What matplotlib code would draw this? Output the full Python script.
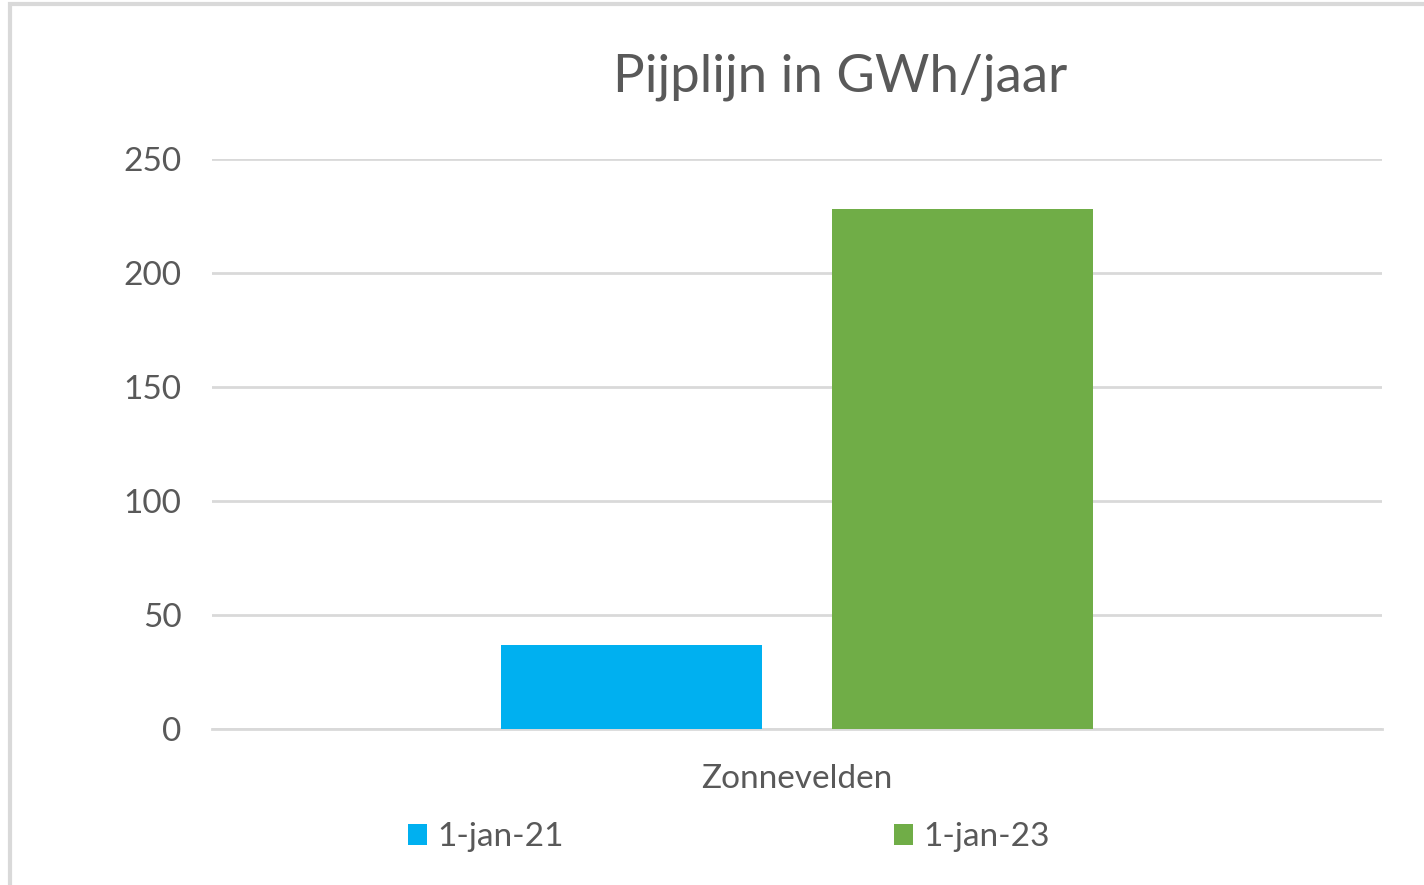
import matplotlib.pyplot as plt
from matplotlib.patches import Rectangle

# data
categories = ["Zonnevelden"]
series_names = ["1-jan-21", "1-jan-23"]
values_21 = [37]
values_23 = [228]
colors = ["#00B0F0", "#70AD47"]
title = "Pijplijn in GWh/jaar"

plt.rcParams['font.family'] = ['Lato', 'DejaVu Sans']
text_color = "#595959"
grid_color = "#D9D9D9"

fig = plt.figure(figsize=(14.24, 8.85), dpi=100)
ax = fig.add_axes([212 / 1424, 1 - 729 / 885, 1170 / 1424, 570 / 885])

width = 0.223
offset = 0.1415
x = list(range(len(categories)))
ax.bar([i - offset for i in x], values_21, width, color=colors[0], label=series_names[0], zorder=3)
ax.bar([i + offset for i in x], values_23, width, color=colors[1], label=series_names[1], zorder=3)

ax.set_xlim(-0.5, 0.5)
ax.set_ylim(0, 250)
ax.set_yticks([0, 50, 100, 150, 200, 250])
ax.set_xticks(x)
ax.set_xticklabels(categories)
ax.tick_params(axis='both', length=0, labelsize=24, labelcolor=text_color)
ax.tick_params(axis='y', pad=22)
ax.tick_params(axis='x', pad=25)
ax.yaxis.grid(True, color=grid_color, linewidth=2)
for s in ["top", "right", "left"]:
    ax.spines[s].set_visible(False)
ax.spines["bottom"].set_color(grid_color)
ax.spines["bottom"].set_linewidth(2)

fig.text(840 / 1424, 1 - 77 / 885, title, fontsize=38, color=text_color,
         ha='center', va='center')

fig.legend(loc='center', bbox_to_anchor=(729 / 1424, 1 - 837 / 885), ncol=2,
           frameon=False, fontsize=24, labelcolor=text_color,
           handlelength=0.58, handleheight=0.58, handletextpad=0.3,
           columnspacing=9.9)

# frame of the original chart box (top and left edge visible)
fig.add_artist(Rectangle((10 / 1424, -0.1), 1.2, 1 - 4 / 885 + 0.1,
                         transform=fig.transFigure, fill=False,
                         edgecolor="#D9D9D9", linewidth=3))

plt.savefig("out.png", dpi=100)
